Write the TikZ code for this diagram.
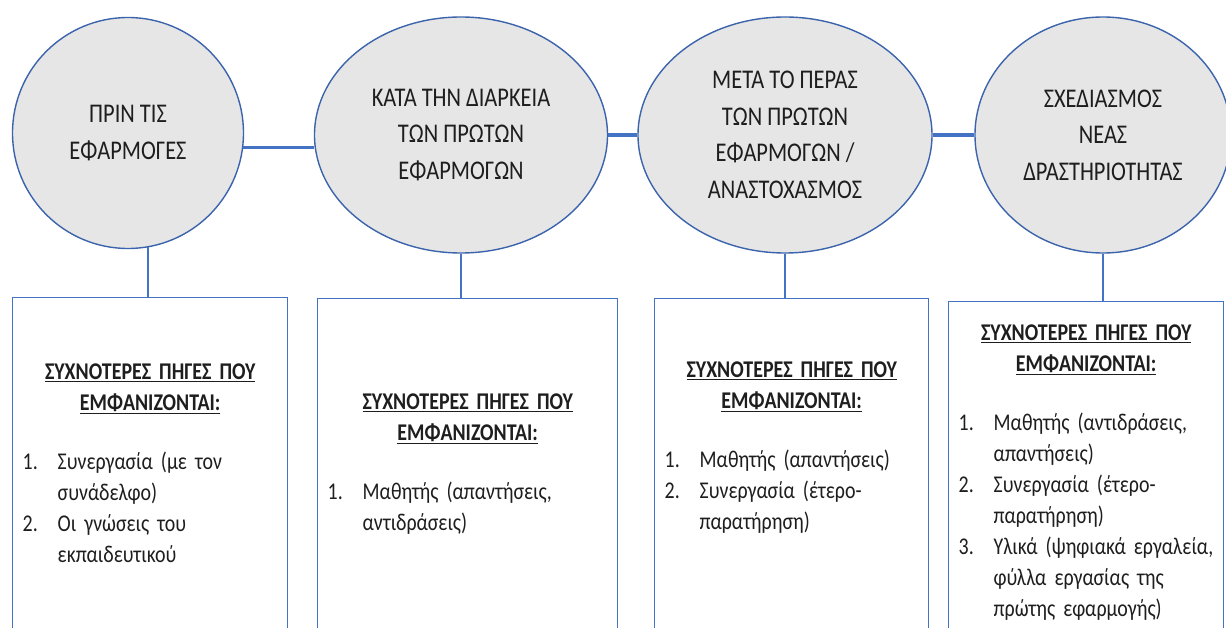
\documentclass[tikz,border=0pt]{standalone}
\usepackage{fontspec}
\setmainfont{Carlito}[FakeStretch=0.83]
\usepackage{tikz}
\usetikzlibrary{positioning,shapes.geometric}
\definecolor{PhaseLine}{HTML}{4472C4}
\definecolor{PhaseEdge}{HTML}{3B64AD}
\definecolor{PhaseFill}{HTML}{E6E6E6}
\definecolor{PhaseText}{HTML}{1E1E1E}
\newlength{\srcindent}
\setlength{\srcindent}{35pt}
\newcommand{\srcitem}[2]{\par\hangindent=\srcindent\hangafter=1\noindent\makebox[\srcindent][l]{#1}#2}
\newcommand{\srchead}{{\centering\bfseries\underline{ΣΥΧΝΟΤΕΡΕΣ ΠΗΓΕΣ ΠΟΥ}\\\underline{ΕΜΦΑΝΙΖΟΝΤΑΙ:}\par}\vspace{28pt}}

\begin{document}
\begin{tikzpicture}[
  x=1pt,y=-1pt,
  node distance=30pt,
  phase/.style={ellipse,draw=PhaseEdge,line width=1.4pt,fill=PhaseFill,inner sep=0pt,
    minimum height=236,text=PhaseText,align=center,
    font=\fontsize{27}{36.5}\selectfont},
  srcbox/.style={draw=PhaseLine,line width=1.4pt,anchor=north west,minimum height=420,inner sep=0pt},
  srctext/.style={text width=255,inner sep=0pt,align=left,text=PhaseText,
    font=\fontsize{24}{31}\selectfont},
  link/.style={draw=PhaseLine,line width=3.2pt},
  stem/.style={draw=PhaseLine,line width=2.2pt}
]
\useasboundingbox[fill=white] (0,0) rectangle (1226,628);

\node[srcbox,minimum width=275] (beforebox) at (12,297) {};
\node[srcbox,minimum width=300] (duringbox) at (317,298) {};
\node[srcbox,minimum width=274] (afterbox) at (654,298) {};
\node[srcbox,minimum width=275] (designbox) at (948,301) {};

\node[phase,minimum width=231,minimum height=231] (before) at (128,133) {ΠΡΙΝ ΤΙΣ\\ΕΦΑΡΜΟΓΕΣ};
\node[phase,minimum width=293] (during) at (461,135) {ΚΑΤΑ ΤΗΝ ΔΙΑΡΚΕΙΑ\\ΤΩΝ ΠΡΩΤΩΝ\\ΕΦΑΡΜΟΓΩΝ};
\node[phase,minimum width=294] (after) at (785,135) {ΜΕΤΑ ΤΟ ΠΕΡΑΣ\\ΤΩΝ ΠΡΩΤΩΝ\\ΕΦΑΡΜΟΓΩΝ /\\ΑΝΑΣΤΟΧΑΣΜΟΣ};
\node[phase,minimum width=256] (design) at (1103,135) {ΣΧΕΔΙΑΣΜΟΣ\\ΝΕΑΣ\\ΔΡΑΣΤΗΡΙΟΤΗΤΑΣ};

\node[srctext,below=67pt of beforebox.north] (beforesrc) {\srchead
  \srcitem{1.}{Συνεργασία (με τον\newline συνάδελφο)}
  \srcitem{2.}{Οι γνώσεις του\newline εκπαιδευτικού}\par};
\node[srctext,text width=280,below=96pt of duringbox.north] (duringsrc) {\srchead
  \srcitem{1.}{Μαθητής (απαντήσεις,\newline αντιδράσεις)}\par};
\node[srctext,text width=254,below=64pt of afterbox.north] (aftersrc) {\srchead
  \srcitem{1.}{Μαθητής (απαντήσεις)}
  \srcitem{2.}{Συνεργασία (έτερο-\newline παρατήρηση)}\par};
\node[srctext,below=24pt of designbox.north] (designsrc) {\srchead
  \srcitem{1.}{Μαθητής (αντιδράσεις,\newline απαντήσεις)}
  \srcitem{2.}{Συνεργασία (έτερο-\newline παρατήρηση)}
  \srcitem{3.}{Υλικά (ψηφιακά εργαλεία,\newline φύλλα εργασίας της\newline πρώτης εφαρμογής)}\par};

\draw[link] (before.-7) -- (before.-7 -| during.west);
\draw[link] (during) -- (after);
\draw[link] (after) -- (design);
\draw[stem] (before.-80) -- (before.-80 |- beforebox.north);
\draw[stem] (during.south) -- (during.south |- duringbox.north);
\draw[stem] (after.south) -- (after.south |- afterbox.north);
\draw[stem] (design.south) -- (design.south |- designbox.north);
\end{tikzpicture}
\end{document}
